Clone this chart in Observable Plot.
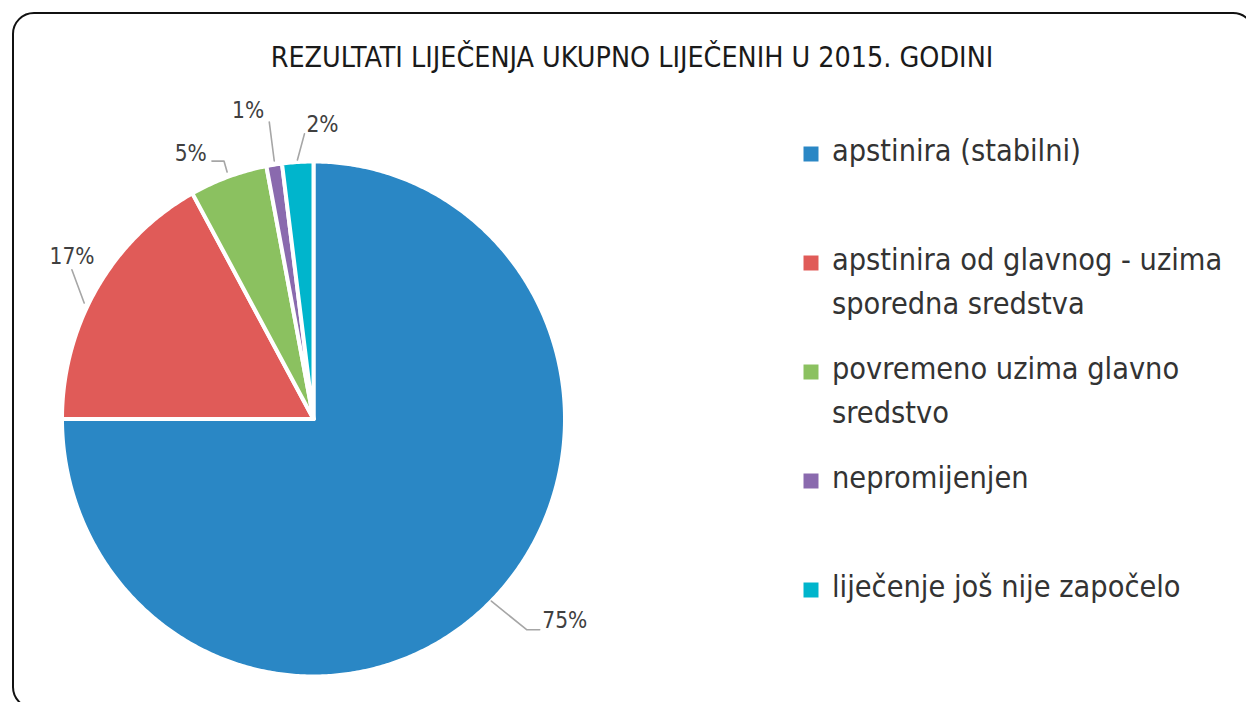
<!DOCTYPE html>
<html><head><meta charset="utf-8">
<script src="https://cdn.jsdelivr.net/npm/d3@7"></script>
<script src="https://cdn.jsdelivr.net/npm/@observablehq/plot@0.6"></script>
<style>
html,body{margin:0;padding:0;background:#fff;}
#wrap{position:relative;width:1246px;height:702px;overflow:hidden;font-family:"DejaVu Sans Condensed","Liberation Sans Narrow",sans-serif;}
#frame{position:absolute;left:12px;top:12px;width:1243px;height:697px;box-sizing:border-box;border:2px solid #111;border-radius:22px;}
#title{position:absolute;left:0;width:1264px;top:44px;text-align:center;font-size:28.4px;line-height:1;color:#1a1a1a;white-space:nowrap;}
.layer{position:absolute;left:0;top:0;}
</style></head><body><div id="wrap"><div id="frame"></div><div id="title"></div></div>
<script>
const FONT = '"DejaVu Sans Condensed","Liberation Sans Narrow",sans-serif';
const title = "REZULTATI LIJEČENJA UKUPNO LIJEČENIH U 2015. GODINI";
const categories = ["apstinira (stabilni)", "apstinira od glavnog - uzima sporedna sredstva", "povremeno uzima glavno sredstvo", "nepromijenjen", "liječenje još nije započelo"];
const values = [75, 17, 5, 1, 2];
const labels = ["75%", "17%", "5%", "1%", "2%"];
const legendText = ["apstinira (stabilni)", "apstinira od glavnog - uzima\nsporedna sredstva", "povremeno uzima glavno\nsredstvo", "nepromijenjen", "liječenje još nije započelo"];
const colors = ["#2a87c5", "#e05b58", "#8bc160", "#8a6aae", "#00b5cc"];

// label layout (polar: degrees clockwise from 12 o'clock, radius in pie radii)
const labelPos = [[128.1, 1.27], [303.2, 1.147], [-22.4, 1.113], [-12.25, 1.225], [1.8, 1.144]];
const labelAnchor = ["middle", "middle", "end", "middle", "middle"];
const leaderPts = [
  [[135, 1.0], [134, 1.178], [132.3, 1.216]],
  [[296.3, 1.017], [301.1, 1.122]],
  [[-19.7, 1.019], [-19.56, 1.063], [-21.96, 1.08]],
  [[-8.85, 1.014], [-8.67, 1.167]],
  [[-3.64, 1.008], [-1.86, 1.108]]
];

document.getElementById("title").textContent = title;

const rad = Math.PI / 180;
const polar = (a, r) => ({x: r * Math.sin(a * rad), y: r * Math.cos(a * rad)});
const total = d3.sum(values);
let cum = 0;
const slicePts = [];
values.forEach((v, i) => {
  const a0 = cum / total * 360;
  cum += v;
  const a1 = cum / total * 360;
  const n = Math.max(2, Math.ceil((a1 - a0) / 0.5));
  slicePts.push({cat: categories[i], x: 0, y: 0});
  for (let k = 0; k <= n; k++) {
    const p = polar(a0 + (a1 - a0) * k / n, 1);
    slicePts.push({cat: categories[i], ...p});
  }
  slicePts.push({cat: categories[i], x: 0, y: 0});
});
const leaderData = leaderPts.flatMap((pts, i) => pts.map(([a, r]) => ({lab: labels[i], ...polar(a, r)})));
const labelData = labels.map((t, i) => ({t, anchor: labelAnchor[i], ...polar(labelPos[i][0], labelPos[i][1])}));

const colorScale = {domain: categories, range: colors};

const pie = Plot.plot({
  width: 1246, height: 702,
  x: {domain: [-1, 1], range: [61.5, 564.5], axis: null},
  y: {domain: [-1, 1], range: [676, 161], axis: null},
  color: colorScale,
  style: {fontFamily: FONT, background: "transparent", overflow: "visible"},
  marks: [
    Plot.line(slicePts, {x: "x", y: "y", z: "cat", fill: "cat", stroke: "white", strokeWidth: 4, curve: "linear"}),
    Plot.line(leaderData, {x: "x", y: "y", z: "lab", stroke: "#a6a6a6", strokeWidth: 1.6}),
    Plot.text(labelData.filter(d => d.anchor === "middle"), {x: "x", y: "y", text: "t", textAnchor: "middle", lineAnchor: "middle", fontSize: 22.5, fill: "#404040"}),
    Plot.text(labelData.filter(d => d.anchor === "end"), {x: "x", y: "y", text: "t", textAnchor: "end", lineAnchor: "middle", fontSize: 22.5, fill: "#404040"})
  ]
});
pie.classList.add("layer");

const LFS = 30.4, LH = 1.43;
const legend = Plot.plot({
  width: 1246, height: 702,
  x: {domain: [0, 1], range: [810.5, 1000], axis: null},
  y: {type: "point", domain: categories, range: [160, 597], padding: 0, axis: null},
  color: colorScale,
  style: {fontFamily: FONT, background: "transparent", overflow: "visible"},
  marks: [
    Plot.dot(categories, {x: () => 0, y: d => d, fill: d => d, symbol: "square", r: 8.46, dy: -7.5}),
    Plot.text(categories, {x: () => 0, y: d => d, text: (d, i) => legendText[i], dx: 21, dy: -0.71 * LH * LFS, textAnchor: "start", lineAnchor: "top", lineHeight: LH, fontSize: LFS, fill: "#333"})
  ]
});
legend.classList.add("layer");

const wrap = document.getElementById("wrap");
wrap.appendChild(pie);
wrap.appendChild(legend);
</script></body></html>
